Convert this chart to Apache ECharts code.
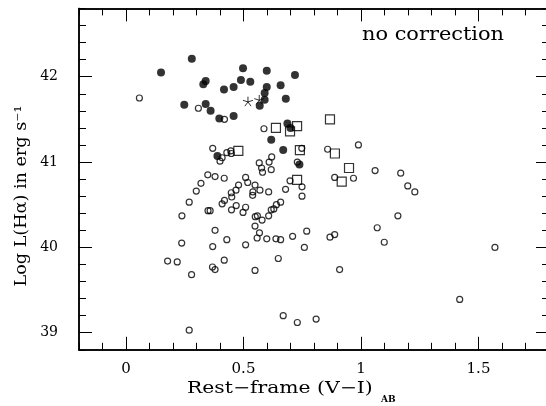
<!DOCTYPE html>
<html><head><meta charset="utf-8">
<script src="https://cdn.jsdelivr.net/npm/echarts@6/dist/echarts.min.js"></script>
<style>html,body{margin:0;padding:0;background:#fff}#c{width:546px;height:406px}</style>
</head><body><div id="c"></div>
<script>
const xMajorTicks = [0, 0.5, 1, 1.5];
const yMajorTicks = [39, 40, 41, 42];

const filledCircles = [
  [0.149,42.05],[0.280,42.21],[0.248,41.67],[0.329,41.91],[0.339,41.95],[0.339,41.68],
  [0.360,41.60],[0.397,41.51],[0.417,41.85],[0.458,41.88],[0.458,41.54],[0.489,41.96],
  [0.498,42.10],[0.529,41.94],[0.599,42.07],[0.599,41.88],[0.590,41.81],[0.590,41.73],
  [0.569,41.66],[0.658,41.90],[0.680,41.74],[0.719,42.02],[0.687,41.45],[0.700,41.40],
  [0.618,41.26],[0.669,41.14],[0.389,41.07],[0.738,40.97]
];
const stars = [[0.519,41.71],[0.567,41.73]];
const openSquares = [
  [0.638,41.40],[0.698,41.36],[0.728,41.42],[0.478,41.13],[0.740,41.14],
  [0.728,40.79],[0.868,41.50],[0.889,41.10],[0.949,40.93],[0.918,40.77]
];
const openCircles = [
  [0.057,41.75],[0.308,41.63],[0.419,41.50],[0.587,41.39],[0.369,41.16],[0.429,41.11],
  [0.446,41.13],[0.448,41.10],[0.409,41.05],[0.400,41.01],[0.567,40.99],[0.609,41.00],
  [0.620,41.06],[0.577,40.93],[0.581,40.88],[0.618,40.91],[0.748,41.16],[0.729,41.00],
  [0.858,41.15],[0.989,41.20],[1.060,40.90],[1.169,40.87],[0.888,40.82],[0.968,40.81],
  [1.199,40.72],[1.229,40.65],[1.157,40.37],[1.069,40.23],[1.099,40.06],[0.868,40.12],
  [0.888,40.15],[0.909,39.74],[0.809,39.16],[1.420,39.39],[1.570,40.00],[0.749,40.71],
  [0.749,40.60],[0.769,40.19],[0.759,40.00],[0.698,40.78],[0.679,40.68],[0.709,40.13],
  [0.638,40.10],[0.658,40.09],[0.648,39.87],[0.669,39.20],[0.729,39.12],[0.348,40.85],
  [0.379,40.83],[0.418,40.81],[0.509,40.82],[0.319,40.75],[0.299,40.66],[0.269,40.53],
  [0.238,40.37],[0.237,40.05],[0.177,39.84],[0.218,39.83],[0.279,39.68],[0.269,39.03],
  [0.349,40.43],[0.358,40.43],[0.379,40.20],[0.369,40.01],[0.368,39.77],[0.379,39.74],
  [0.418,39.85],[0.429,40.09],[0.409,40.51],[0.419,40.55],[0.448,40.64],[0.450,40.59],
  [0.468,40.67],[0.479,40.73],[0.469,40.49],[0.449,40.44],[0.498,40.41],[0.509,40.47],
  [0.518,40.76],[0.540,40.65],[0.539,40.61],[0.549,40.73],[0.570,40.67],[0.550,40.36],
  [0.559,40.37],[0.579,40.32],[0.549,40.25],[0.568,40.17],[0.558,40.11],[0.599,40.10],
  [0.607,40.37],[0.618,40.44],[0.629,40.45],[0.640,40.50],[0.658,40.53],[0.607,40.65],
  [0.509,40.03],[0.549,39.73]
];

const FONT = 'DejaVu Serif';
const chart = echarts.init(document.getElementById('c'), null, {renderer: 'canvas'});
const gridBox = {left: 79, top: 8.4, width: 470, height: 341.4, outerBoundsMode: 'none', containLabel: false};
const X_MIN = -0.2, X_MAX = 1.8, Y_MIN = 38.8, Y_MAX = 42.8;
const lineSt = {color: '#000', width: 1.5};
const tickSt = {color: '#000', width: 1};

function xAxis(grid, pos, major, labels) {
  const a = {
    type: 'value', gridIndex: grid, position: pos, min: X_MIN, max: X_MAX,
    axisLine: {show: true, onZero: false, lineStyle: lineSt},
    axisTick: {show: true, inside: true, length: major ? 13 : 7, lineStyle: tickSt},
    axisLabel: {show: labels, color: '#000', fontFamily: FONT, fontSize: 15, margin: 12},
    splitLine: {show: false}
  };
  if (major) { a.axisTick.customValues = xMajorTicks; a.axisLabel.customValues = xMajorTicks; }
  else { a.interval = 0.1; }
  return a;
}
function yAxis(grid, pos, major, labels) {
  const a = {
    type: 'value', gridIndex: grid, position: pos, min: Y_MIN, max: Y_MAX,
    axisLine: {show: true, onZero: false, lineStyle: lineSt},
    axisTick: {show: true, inside: true, length: major ? 13 : 7, lineStyle: tickSt},
    axisLabel: {show: labels, color: '#000', fontFamily: FONT, fontSize: 14, margin: 21},
    splitLine: {show: false}
  };
  if (major) { a.axisTick.customValues = yMajorTicks; a.axisLabel.customValues = yMajorTicks; }
  else { a.interval = 0.2; }
  return a;
}

const open = {color: 'rgba(0,0,0,0)', borderColor: '#000', borderWidth: 1.2};
const STAR = 'path://M10,0 L10,10 M10,10 L19.51,6.91 M10,10 L15.88,18.09 M10,10 L4.12,18.09 M10,10 L0.49,6.91';

chart.setOption({
  animation: false,
  backgroundColor: '#fff',
  grid: [Object.assign({}, gridBox), Object.assign({}, gridBox)],
  xAxis: [xAxis(0, 'bottom', true, true), xAxis(0, 'top', true, false),
          xAxis(1, 'bottom', false, false), xAxis(1, 'top', false, false)],
  yAxis: [yAxis(0, 'left', true, true), yAxis(0, 'right', true, false),
          yAxis(1, 'left', false, false), yAxis(1, 'right', false, false)],
  series: [
    {type: 'scatter', xAxisIndex: 0, yAxisIndex: 0, data: openCircles, symbol: 'circle', symbolSize: 6,
     itemStyle: open, emphasis: {disabled: true}, silent: true},
    {type: 'scatter', xAxisIndex: 0, yAxisIndex: 0, data: openSquares, symbol: 'rect', symbolSize: 9,
     itemStyle: open, emphasis: {disabled: true}, silent: true},
    {type: 'scatter', xAxisIndex: 0, yAxisIndex: 0, data: filledCircles, symbol: 'circle', symbolSize: 8,
     itemStyle: {color: '#000'}, emphasis: {disabled: true}, silent: true},
    {type: 'scatter', xAxisIndex: 0, yAxisIndex: 0, data: stars, symbol: STAR, symbolSize: 10, symbolKeepAspect: true,
     itemStyle: {color: 'rgba(0,0,0,0)', borderColor: '#000', borderWidth: 1}, emphasis: {disabled: true}, silent: true}
  ],
  graphic: [
    {type: 'text', x: 362, y: 35, scaleX: 1.16, silent: true,
     style: {text: 'no correction', fontFamily: FONT, fontSize: 18, fill: '#000', align: 'left', verticalAlign: 'middle'}},
    {type: 'text', x: 187, y: 389, scaleX: 1.27, silent: true,
     style: {text: 'Rest\u2212frame (V\u2212I)', fontFamily: FONT, fontSize: 16, fill: '#000', align: 'left', verticalAlign: 'middle'}},
    {type: 'text', x: 381, y: 400, silent: true,
     style: {text: 'AB', fontFamily: FONT, fontSize: 9, fontWeight: 'bold', fill: '#000', align: 'left', verticalAlign: 'middle'}},
    {type: 'text', x: 22, y: 196, rotation: Math.PI / 2, scaleX: 1.1, silent: true,
     style: {text: 'Log L(H\u03b1) in erg s\u207b\u00b9', fontFamily: FONT, fontSize: 16, fill: '#000', align: 'center', verticalAlign: 'middle'}}
  ]
});
</script></body></html>
